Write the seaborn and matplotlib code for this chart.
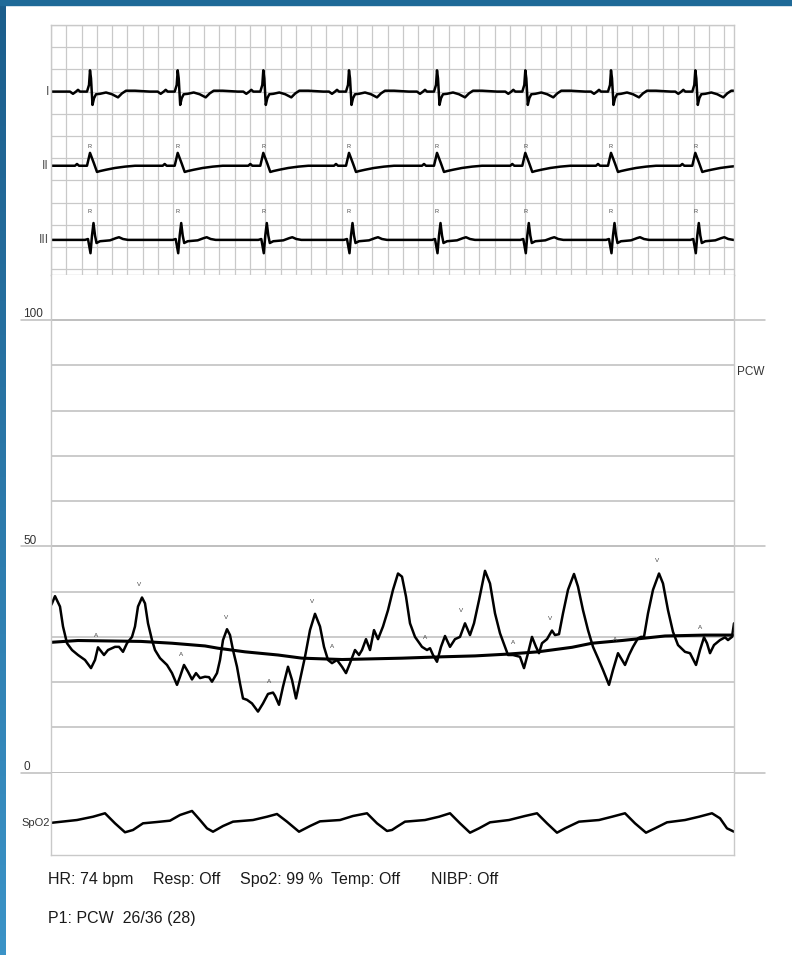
import numpy as np
import pandas as pd
import matplotlib
import matplotlib.pyplot as plt
import seaborn as sns
from matplotlib import font_manager
from matplotlib.colors import LinearSegmentedColormap
from matplotlib.patches import Rectangle

sns.set_style("white")
names = {f.name for f in font_manager.fontManager.ttflist}
FONT = 'Liberation Sans Narrow' if 'Liberation Sans Narrow' in names else 'Liberation Sans'
plt.rcParams['font.family'] = [FONT, 'DejaVu Sans']

SWEEP = 6.83  # seconds shown

# --- ECG: R-peak times (s) and one beat shape per lead (dt s, mV) ---
r_times = [0.39, 1.267, 2.123, 2.98, 3.86, 4.743, 5.60, 6.443]

lead1_dt = [-0.20, -0.17, -0.14, -0.12, -0.10, -0.03, -0.01, 0.00, 0.01, 0.025, 0.04, 0.06,
            0.10, 0.16, 0.22, 0.28, 0.32, 0.36, 0.45, 0.60]
lead1_mv = [0.0, -0.05, 0.0, 0.04, 0.0, 0.0, 0.15, 0.48, 0.30, -0.30, -0.15, -0.06,
            -0.05, -0.02, -0.06, -0.13, -0.04, 0.02, 0.02, 0.0]

lead2_dt = [-0.20, -0.15, -0.13, -0.11, -0.03, 0.00, 0.04, 0.07, 0.10, 0.16, 0.25, 0.35, 0.45, 0.60]
lead2_mv = [0.0, 0.0, 0.04, 0.0, 0.0, 0.29, 0.05, -0.14, -0.12, -0.09, -0.05, -0.02, 0.0, 0.0]

lead3_dt = [-0.20, -0.05, -0.02, 0.005, 0.02, 0.035, 0.05, 0.065, 0.10, 0.20, 0.26, 0.29, 0.33, 0.38, 0.60]
lead3_mv = [0.0, 0.0, 0.02, -0.30, 0.10, 0.38, 0.10, -0.07, -0.03, -0.01, 0.04, 0.06, 0.02, 0.0, 0.0]

lead_names = ['I', 'II', 'III']
lead_offsets = [4.0, 2.33, 0.66]

# --- PCW pressure (mmHg) ---
pcw_t = [0.00, 0.01, 0.04, 0.09, 0.12, 0.16, 0.21, 0.27, 0.34, 0.40, 0.44, 0.47, 0.53, 0.57, 0.64,
         0.68, 0.72, 0.76, 0.81, 0.84, 0.87, 0.91, 0.94, 0.97, 1.01, 1.04, 1.09, 1.16, 1.21, 1.26,
         1.29, 1.33, 1.37, 1.41, 1.45, 1.49, 1.54, 1.58, 1.61, 1.66, 1.69, 1.72, 1.76, 1.79, 1.82,
         1.86, 1.89, 1.92, 1.96, 2.01, 2.07, 2.12, 2.17, 2.22, 2.24, 2.28, 2.32, 2.37, 2.41, 2.45,
         2.49, 2.54, 2.59, 2.64, 2.69, 2.73, 2.77, 2.81, 2.86, 2.91, 2.95, 2.99, 3.04, 3.08, 3.11,
         3.15, 3.19, 3.23, 3.27, 3.32, 3.37, 3.42, 3.47, 3.51, 3.55, 3.59, 3.64, 3.71, 3.76, 3.79,
         3.82, 3.86, 3.90, 3.94, 3.99, 4.04, 4.09, 4.14, 4.19, 4.23, 4.28, 4.34, 4.39, 4.44, 4.49,
         4.54, 4.57, 4.62, 4.69, 4.73, 4.77, 4.81, 4.85, 4.88, 4.91, 4.96, 5.01, 5.04, 5.08, 5.12,
         5.17, 5.23, 5.27, 5.32, 5.37, 5.42, 5.47, 5.52, 5.58, 5.62, 5.67, 5.71, 5.74, 5.78, 5.82,
         5.87, 5.90, 5.93, 5.97, 6.02, 6.08, 6.12, 6.17, 6.22, 6.27, 6.34, 6.39, 6.45, 6.49, 6.53,
         6.56, 6.59, 6.63, 6.69, 6.74, 6.77, 6.81, 6.83]
pcw_mmhg = [37.0, 37.4, 39.0, 36.7, 32.3, 28.6, 27.1, 26.0, 24.9, 23.1, 24.9, 27.7, 26.0, 27.1, 27.8,
            27.8, 26.7, 28.6, 30.0, 32.3, 36.7, 38.7, 37.4, 33.0, 29.3, 27.1, 25.3, 23.8, 22.0, 19.4,
            21.2, 23.8, 22.3, 20.6, 22.0, 20.9, 21.2, 21.1, 20.1, 22.0, 24.9, 29.3, 31.7, 30.4, 27.1,
            23.4, 19.7, 16.4, 16.1, 15.3, 13.5, 15.3, 17.4, 17.7, 17.0, 15.0, 19.0, 23.4, 20.5, 16.4,
            20.5, 25.6, 31.5, 35.1, 32.3, 27.8, 24.9, 24.2, 24.9, 23.4, 22.0, 24.2, 27.1, 26.0, 27.1,
            29.5, 27.1, 31.5, 29.5, 32.3, 35.9, 40.4, 44.0, 43.3, 38.9, 33.0, 30.0, 27.8, 27.1, 27.5,
            26.0, 24.5, 27.8, 30.2, 27.8, 29.5, 30.0, 33.0, 30.4, 33.0, 38.1, 44.6, 41.8, 35.2, 30.8,
            27.8, 26.0, 26.0, 25.6, 23.1, 26.4, 30.0, 27.8, 26.4, 28.6, 29.5, 31.4, 30.4, 30.6, 35.2,
            40.4, 43.9, 41.1, 35.9, 31.5, 27.8, 25.3, 22.7, 19.4, 22.7, 26.4, 24.9, 23.8, 26.0, 27.8,
            29.7, 30.0, 30.0, 35.2, 40.4, 44.0, 41.8, 35.9, 31.1, 28.2, 26.7, 26.4, 23.8, 27.1, 29.9,
            28.6, 26.4, 28.2, 29.3, 29.9, 29.3, 30.0, 33.0]

mean_t = [0.00, 0.27, 0.90, 1.21, 1.54, 1.67, 1.94, 2.27, 2.51, 2.91, 3.51, 3.91, 4.24, 4.57,
          4.87, 5.21, 5.41, 5.71, 6.14, 6.54, 6.83]
mean_mmhg = [28.8, 29.2, 29.0, 28.6, 28.0, 27.5, 26.7, 26.0, 25.3, 25.0, 25.3, 25.6, 25.8, 26.2,
             26.7, 27.7, 28.6, 29.2, 30.2, 30.4, 30.4]

wave_marks = ['A', 'V', 'A', 'V', 'A', 'V', 'A', 'A', 'V', 'A', 'V', 'A', 'V', 'A']
wave_t = [0.45, 0.88, 1.30, 1.75, 2.18, 2.61, 2.81, 3.74, 4.10, 4.62, 4.99, 5.64, 6.06, 6.49]
wave_mmhg = [30.2, 41.5, 26.2, 34.3, 20.1, 37.8, 27.8, 29.9, 35.8, 28.7, 34.1, 29.5, 46.8, 32.1]

# --- SpO2 pleth (arbitrary units 0-100) ---
spo2_t = [0.01, 0.26, 0.42, 0.54, 0.64, 0.74, 0.82, 0.92, 1.06, 1.19, 1.29, 1.41, 1.49, 1.56, 1.62,
          1.72, 1.82, 2.02, 2.16, 2.26, 2.36, 2.48, 2.59, 2.69, 2.89, 3.02, 3.16, 3.26, 3.36, 3.41,
          3.46, 3.54, 3.74, 3.88, 3.99, 4.09, 4.19, 4.28, 4.39, 4.58, 4.74, 4.86, 4.96, 5.06, 5.14,
          5.28, 5.48, 5.61, 5.74, 5.84, 5.95, 6.04, 6.16, 6.34, 6.48, 6.61, 6.69, 6.76, 6.83]
spo2_val = [39.2, 42.5, 46.5, 50.7, 38.5, 27.6, 30.4, 38.5, 40.1, 41.7, 48.6, 53.5, 42.5, 32.4, 28.3,
            35.2, 40.5, 42.5, 46.5, 49.8, 40.5, 28.3, 35.2, 40.9, 42.5, 47.4, 50.7, 38.5, 29.2, 30.4,
            34.4, 40.5, 42.5, 46.5, 50.7, 38.5, 27.1, 32.4, 39.7, 42.5, 47.4, 50.7, 38.5, 27.1, 32.4,
            40.5, 42.5, 46.5, 50.7, 38.5, 27.1, 32.4, 39.7, 42.5, 46.5, 50.7, 44.6, 32.4, 28.3]

status_items = ['HR: 74 bpm', 'Resp: Off', 'Spo2: 99 %', 'Temp: Off', 'NIBP: Off']
pressure_line = 'P1: PCW  26/36 (28)'

GRID = '#c9c9c9'
W, H = 792, 955


def build_lead(dts, mvs, offset):
    t, v = [0.0], [offset]
    for rt in r_times:
        for dt, mv in zip(dts, mvs):
            t.append(rt + dt)
            v.append(offset + mv)
    return pd.DataFrame({'t': t, 'v': v})


def frame_axis(ax, spines):
    for side, sp in ax.spines.items():
        sp.set_visible(side in spines)
        sp.set_color(GRID)
        sp.set_linewidth(1.0)
    ax.tick_params(length=0, labelbottom=False, labelleft=False)
    ax.set_xlabel('')
    ax.set_ylabel('')


fig = plt.figure(figsize=(W / 100, H / 100), dpi=100)

# blue slide frame
grad = LinearSegmentedColormap.from_list('frame', ['#1b5d8b', '#3b93c7'])
ax_bar = fig.add_axes([0, 0, 6 / W, 1])
ax_bar.imshow(np.linspace(0, 1, 256).reshape(-1, 1), cmap=grad, aspect='auto')
ax_bar.axis('off')
fig.add_artist(Rectangle((0, 1 - 5 / H), 1, 5 / H, transform=fig.transFigure,
                         color='#1f6a98', zorder=5))

left, width = 51 / W, 683 / W
ax_ecg = fig.add_axes([left, 1 - 275 / H, width, 250 / H])
ax_pcw = fig.add_axes([left, 1 - 772.7 / H, width, 497.7 / H])
ax_spo = fig.add_axes([left, 1 - 855 / H, width, 82.3 / H])

# ECG strip
for name, off, dts, mvs in zip(lead_names, lead_offsets,
                               [lead1_dt, lead2_dt, lead3_dt], [lead1_mv, lead2_mv, lead3_mv]):
    df = build_lead(dts, mvs, off)
    sns.lineplot(data=df, x='t', y='v', ax=ax_ecg, color='black', linewidth=1.8,
                 estimator=None, sort=False)
    ax_ecg.text(-0.02, off, name, ha='right', va='center', fontsize=9, color='#555555')
    if name != 'I':
        lift = 0.43 if name == 'II' else 0.65
        for rt in r_times:
            ax_ecg.text(rt, off + lift, 'R', ha='center', va='center', fontsize=4, color='#444444')
ax_ecg.set_xlim(0, SWEEP)
ax_ecg.set_ylim(5.5 - 250 / 44.4, 5.5)
ax_ecg.set_xticks(np.arange(45) * 0.153)
ax_ecg.set_yticks(np.arange(0, 5.51, 0.5))
ax_ecg.grid(True, color=GRID, linewidth=0.9)
frame_axis(ax_ecg, ['top', 'bottom', 'left', 'right'])

# PCW pressure
sns.lineplot(x=mean_t, y=mean_mmhg, ax=ax_pcw, color='black', linewidth=2.2,
             estimator=None, sort=False)
sns.lineplot(x=pcw_t, y=pcw_mmhg, ax=ax_pcw, color='black', linewidth=1.8,
             estimator=None, sort=False)
for mark, t, p in zip(wave_marks, wave_t, wave_mmhg):
    ax_pcw.text(t, p, mark, ha='center', va='center', fontsize=4.5, color='#444444')
ax_pcw.set_xlim(0, SWEEP)
ax_pcw.set_ylim(0, 497.7 / 4.527)
ax_pcw.set_xticks([])
ax_pcw.set_yticks(np.arange(0, 101, 10))
ax_pcw.grid(True, axis='y', color='#bdbdbd', linewidth=1.1)
for lvl in [0, 50, 100]:
    ax_pcw.axhline(lvl, xmin=-30 / 683, xmax=714 / 683, color='#bdbdbd', linewidth=1.1,
                   clip_on=False)
    ax_pcw.text(-0.28, lvl + 0.6, str(lvl), ha='left', va='baseline', fontsize=8.5,
                color='#333333')
ax_pcw.text(6.855, 88.5, 'PCW', ha='left', va='center', fontsize=8.5, color='#333333')
frame_axis(ax_pcw, ['left', 'right'])

# SpO2 pleth
sns.lineplot(x=spo2_t, y=spo2_val, ax=ax_spo, color='black', linewidth=1.8,
             estimator=None, sort=False)
ax_spo.set_xlim(0, SWEEP)
ax_spo.set_ylim(0, 100)
ax_spo.set_xticks([])
ax_spo.set_yticks([])
ax_spo.text(-0.293, 39.2, 'SpO2', ha='left', va='center', fontsize=8, color='#333333')
frame_axis(ax_spo, ['left', 'right', 'bottom'])

# status lines
for item, x in zip(status_items, [48.3, 152.7, 240, 331, 431]):
    fig.text(x / W, 1 - 884 / H, item, ha='left', va='baseline', fontsize=11.5, color='#1a1a1a')
fig.text(48.3 / W, 1 - 922.7 / H, pressure_line, ha='left', va='baseline', fontsize=11.5,
         color='#1a1a1a')

fig.savefig('out.png', dpi=100)
